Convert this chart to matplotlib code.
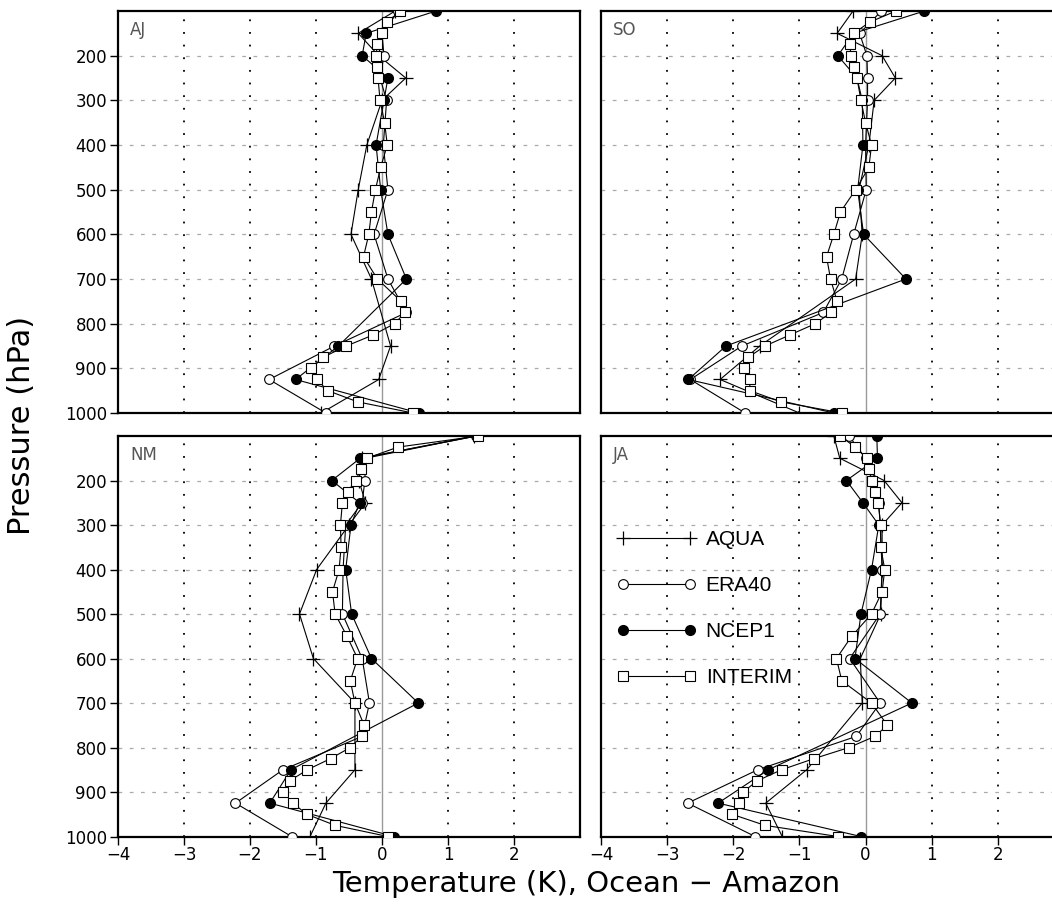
import matplotlib
matplotlib.use("Agg")
import matplotlib.pyplot as plt

# pressure levels of each data set (hPa)
lev_interim = [100, 125, 150, 175, 200, 225, 250, 300, 350, 400, 450, 500, 550, 600,
               650, 700, 750, 775, 800, 825, 850, 875, 900, 925, 950, 975, 1000]
lev_era40 = [100, 150, 200, 250, 300, 400, 500, 600, 700, 775, 850, 925, 1000]
lev_ncep = [100, 150, 200, 250, 300, 400, 500, 600, 700, 850, 925, 1000]
lev_aqua = [100, 150, 200, 250, 300, 400, 500, 600, 700, 850, 925, 1000]

seasons = ["AJ", "SO", "NM", "JA"]

# temperature difference Ocean - Amazon (K)
interim = {
    "AJ": [0.28, 0.07, 0.0, -0.07, -0.09, -0.08, -0.06, -0.03, 0.04, 0.08, -0.02, -0.10, -0.16, -0.20,
           -0.28, -0.07, 0.29, 0.35, 0.19, -0.13, -0.54, -0.89, -1.07, -0.99, -0.82, -0.37, 0.47],
    "SO": [0.46, 0.06, -0.18, -0.24, -0.22, -0.18, -0.13, -0.07, 0.0, 0.09, 0.05, -0.15, -0.38, -0.48,
           -0.59, -0.53, -0.43, -0.52, -0.76, -1.14, -1.52, -1.77, -1.84, -1.75, -1.75, -1.28, -0.36],
    "NM": [1.46, 0.24, -0.23, -0.32, -0.40, -0.52, -0.60, -0.63, -0.62, -0.65, -0.75, -0.71, -0.53, -0.37,
           -0.48, -0.41, -0.27, -0.31, -0.48, -0.78, -1.13, -1.40, -1.50, -1.35, -1.14, -0.71, 0.09],
    "JA": [-0.38, -0.16, 0.02, 0.05, 0.09, 0.14, 0.19, 0.23, 0.23, 0.29, 0.25, 0.09, -0.21, -0.44,
           -0.36, 0.09, 0.33, 0.14, -0.25, -0.78, -1.27, -1.64, -1.85, -1.92, -2.02, -1.52, -0.42],
}
era40 = {
    "AJ": [0.25, 0.0, 0.03, -0.03, 0.07, 0.02, 0.09, -0.12, 0.09, 0.37, -0.72, -1.71, -0.85],
    "SO": [0.24, -0.09, 0.02, 0.03, 0.03, 0.0, 0.01, -0.18, -0.36, -0.64, -1.87, -2.65, -1.82],
    "NM": [1.42, -0.25, -0.26, -0.30, -0.55, -0.59, -0.60, -0.30, -0.19, -0.30, -1.50, -2.22, -1.37],
    "JA": [-0.25, 0.0, 0.10, 0.20, 0.22, 0.25, 0.22, -0.24, 0.22, -0.14, -1.63, -2.69, -1.67],
}
ncep = {
    "AJ": [0.82, -0.24, -0.30, 0.09, 0.03, -0.09, -0.02, 0.09, 0.37, -0.66, -1.31, 0.56],
    "SO": [0.89, -0.18, -0.42, -0.13, -0.05, -0.04, -0.12, -0.03, 0.61, -2.11, -2.68, -0.48],
    "NM": [1.44, -0.33, -0.76, -0.34, -0.47, -0.55, -0.46, -0.16, 0.55, -1.38, -1.70, 0.18],
    "JA": [0.17, 0.18, -0.29, -0.04, 0.20, 0.09, -0.07, -0.16, 0.70, -1.47, -2.23, -0.07],
}
aqua = {
    "AJ": [0.20, -0.36, -0.05, 0.36, 0.0, -0.23, -0.36, -0.47, -0.16, 0.13, -0.05, -0.92],
    "SO": [-0.19, -0.43, 0.25, 0.45, 0.13, 0.05, -0.10, -0.05, -0.15, -1.60, -2.20, -1.00],
    "NM": [1.40, -0.30, -0.35, -0.25, -0.50, -0.99, -1.25, -1.04, -0.41, -0.41, -0.85, -1.09],
    "JA": [-0.48, -0.39, 0.28, 0.55, 0.25, 0.25, 0.23, -0.08, -0.05, -0.89, -1.51, -1.26],
}

xticks = [-4, -3, -2, -1, 0, 1, 2]
yticks = [200, 300, 400, 500, 600, 700, 800, 900, 1000]

W, H = 1052, 913
fig = plt.figure(figsize=(W / 100, H / 100), dpi=100)


def px_axes(x0, y0, x1, y1):
    return fig.add_axes([x0 / W, 1 - y1 / H, (x1 - x0) / W, (y1 - y0) / H])


boxes = {
    "AJ": (118, 11, 580, 413),
    "SO": (601, 11, 1064, 413),
    "NM": (118, 436, 580, 836.5),
    "JA": (601, 436, 1064, 836.5),
}

for s in seasons:
    ax = px_axes(*boxes[s])
    ax.set_xlim(-4, 3)
    ax.set_ylim(1000, 100)

    for xv in [-3, -2, -1, 1, 2]:
        ax.axvline(xv, color="black", lw=1.3, ls=(0, (1, 6)), zorder=1)
    for yv in yticks[:-1]:
        ax.axhline(yv, color="#aaaaaa", lw=0.9, ls=(0, (3, 6)), zorder=1)
    ax.axvline(0, color="#999999", lw=1.0, zorder=1)

    ax.plot(aqua[s], lev_aqua, color="black", lw=0.8, marker="+", ms=10, mew=0.9,
            label="AQUA", zorder=3)
    ax.plot(era40[s], lev_era40, color="black", lw=0.8, marker="o", ms=7, mfc="white",
            mec="black", mew=0.8, label="ERA40", zorder=4)
    ax.plot(ncep[s], lev_ncep, color="black", lw=0.8, marker="o", ms=7, mfc="black",
            mec="black", label="NCEP1", zorder=5)
    ax.plot(interim[s], lev_interim, color="black", lw=0.8, marker="s", ms=7, mfc="white",
            mec="black", mew=0.8, label="INTERIM", zorder=6)

    for sp in ax.spines.values():
        sp.set_linewidth(1.6)

    left = s in ("AJ", "NM")
    bottom = s in ("NM", "JA")
    ax.set_yticks(yticks)
    ax.set_xticks(xticks)
    ax.tick_params(axis="y", direction="out", length=6, width=1, labelsize=12, pad=2,
                   left=left, labelleft=left)
    ax.tick_params(axis="x", direction="out", length=6, width=1, labelsize=12, pad=1,
                   bottom=bottom, labelbottom=bottom)
    if bottom:
        ax.set_xticklabels([f"\u2212{abs(v)}" if v < 0 else str(v) for v in xticks])

    ax.text(0.026, 0.953, s, transform=ax.transAxes, fontsize=12, color="#555555",
            ha="left", va="center")

    if s == "JA":
        ax.legend(loc="upper left", bbox_to_anchor=(0.035, 0.765), frameon=False,
                  numpoints=2, handlelength=3.8, handletextpad=0.45, labelspacing=1.3,
                  borderpad=0, borderaxespad=0,
                  prop={"family": "Liberation Sans", "size": 15})

fig.text(22 / W, 1 - 425 / H, "Pressure (hPa)", rotation=90, ha="center", va="center",
         fontsize=22)
fig.text(586 / W, 1 - 884 / H, "Temperature (K), Ocean \u2212 Amazon", ha="center",
         va="center", fontsize=21)

fig.savefig("out.png", dpi=100)
